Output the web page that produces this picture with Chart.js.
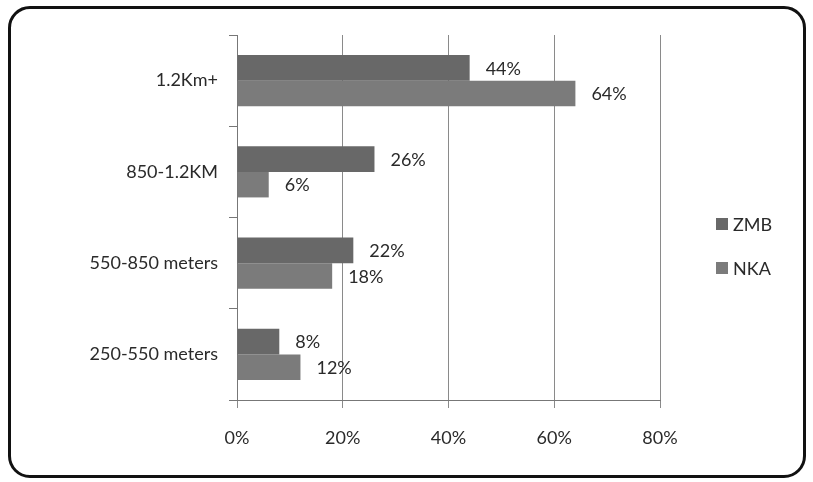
<!DOCTYPE html>
<html>
<head>
<meta charset="utf-8">
<script src="https://cdn.jsdelivr.net/npm/chart.js@4"></script>
<style>
  html, body { margin: 0; padding: 0; background: #fff; }
  #wrap { position: relative; width: 813px; height: 482px; }
  #frame {
    position: absolute; left: 8px; top: 6px; width: 792px; height: 466px;
    border: 3px solid #111; border-radius: 22px; pointer-events: none;
  }
  canvas { position: absolute; left: 0; top: 0; }
</style>
</head>
<body>
<div id="wrap">
  <canvas id="c" width="813" height="482"></canvas>
  <div id="frame"></div>
</div>
<script>
const categories = ['1.2Km+', '850-1.2KM', '550-850 meters', '250-550 meters'];
const zmbValues = [44, 26, 22, 8];
const nkaValues = [64, 6, 18, 12];
const xTicks = [0, 20, 40, 60, 80];

const FONT = 'Lato, "Open Sans", sans-serif';
const TEXT = '#2a2a2a';
const SIZE = 18;

// value labels placed just past the end of each bar
const valueLabels = {
  id: 'valueLabels',
  afterDatasetsDraw(chart) {
    const ctx = chart.ctx;
    ctx.save();
    ctx.font = SIZE + 'px ' + FONT;
    ctx.fillStyle = TEXT;
    ctx.textAlign = 'left';
    ctx.textBaseline = 'middle';
    chart.data.datasets.forEach((ds, i) => {
      chart.getDatasetMeta(i).data.forEach((bar, j) => {
        ctx.fillText(ds.data[j] + '%', bar.x + 16, bar.y + 1);
      });
    });
    ctx.restore();
  }
};

// legend on the right, one square swatch per series
const sideLegend = {
  id: 'sideLegend',
  afterDraw(chart) {
    const ctx = chart.ctx;
    ctx.save();
    ctx.font = SIZE + 'px ' + FONT;
    ctx.textBaseline = 'middle';
    ctx.textAlign = 'left';
    const x0 = 716, y0 = 224, gap = 44;
    chart.data.datasets.forEach((ds, i) => {
      const y = y0 + i * gap;
      ctx.fillStyle = ds.backgroundColor;
      ctx.fillRect(x0, y - 6, 12, 12);
      ctx.fillStyle = TEXT;
      ctx.fillText(ds.label, x0 + 17, y + 1);
    });
    ctx.restore();
  }
};

new Chart(document.getElementById('c'), {
  type: 'bar',
  data: {
    labels: categories,
    datasets: [
      { label: 'ZMB', data: zmbValues, backgroundColor: '#686868' },
      { label: 'NKA', data: nkaValues, backgroundColor: '#7b7b7b' }
    ]
  },
  options: {
    indexAxis: 'y',
    responsive: false,
    animation: false,
    devicePixelRatio: 1,
    layout: { padding: { left: 10, right: 153, top: 35, bottom: 10 } },
    datasets: { bar: { categoryPercentage: 0.56, barPercentage: 1.0 } },
    plugins: { legend: { display: false }, tooltip: { enabled: false } },
    scales: {
      x: {
        min: 0, max: 80,
        afterBuildTicks(scale) { scale.ticks = xTicks.map(v => ({ value: v })); },
        afterFit(scale) { scale.height = 72; },
        grid: { color: '#8a8a8a', lineWidth: 1, tickLength: 8, drawTicks: true },
        border: { color: '#777', width: 1 },
        ticks: {
          padding: 19,
          color: TEXT,
          font: { family: FONT, size: SIZE },
          callback: v => v + '%'
        }
      },
      y: {
        offset: true,
        afterFit(scale) { scale.width = 227; },
        grid: { offset: true, drawOnChartArea: false, color: '#777', tickLength: 8 },
        border: { color: '#777', width: 1 },
        ticks: {
          padding: 11,
          color: TEXT,
          font: { family: FONT, size: SIZE }
        }
      }
    }
  },
  plugins: [valueLabels, sideLegend]
});
</script>
</body>
</html>
